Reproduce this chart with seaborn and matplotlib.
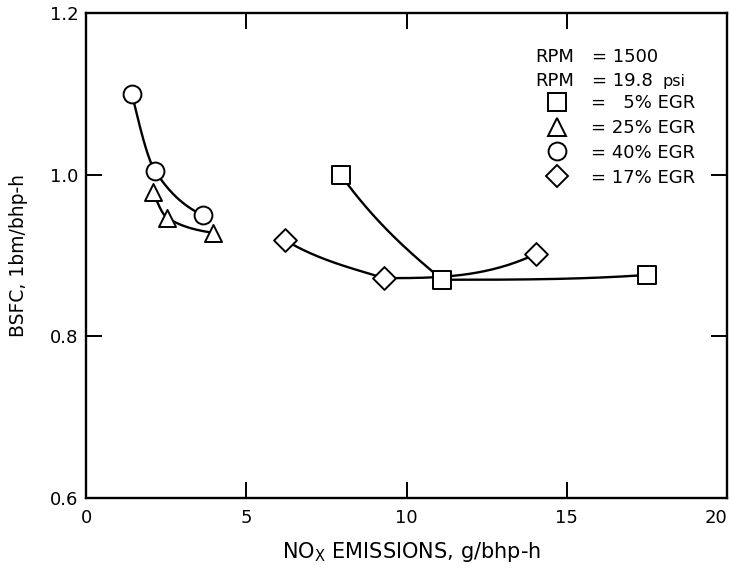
import numpy as np
import pandas as pd
import seaborn as sns
import matplotlib
matplotlib.use("Agg")
import matplotlib.pyplot as plt
from matplotlib.lines import Line2D

# ---------------- data ----------------
egr_labels = ["5% EGR", "25% EGR", "40% EGR", "17% EGR"]
sq_x = [7.96, 11.12, 17.51]
sq_y = [0.999, 0.870, 0.876]
tri_x = [2.09, 2.52, 3.96]
tri_y = [0.978, 0.947, 0.928]
cir_x = [1.43, 2.15, 3.64]
cir_y = [1.100, 1.005, 0.950]
dia_x = [6.21, 9.30, 14.04]
dia_y = [0.919, 0.872, 0.902]
x_ticks = [0, 5, 10, 15, 20]
y_ticks = [0.6, 0.8, 1.0, 1.2]
y_tick_labels = ["0.6", "0.8", "1.0", "1.2"]

# ---------------- style ----------------
sns.set_style("ticks")
plt.rcParams["font.family"] = ["DejaVu Sans"]
plt.rcParams["mathtext.fontset"] = "dejavusans"
plt.rcParams["text.color"] = "black"
plt.rcParams["axes.labelcolor"] = "black"
plt.rcParams["xtick.color"] = "black"
plt.rcParams["ytick.color"] = "black"


def smooth_curve(x, y, n=80):
    """Hand-drawn-like smooth curve through the points (cubic Hermite)."""
    x = np.asarray(x, float)
    y = np.asarray(y, float)
    h = np.diff(x)
    s = np.diff(y) / h
    m = len(x)
    left = np.zeros(m)
    right = np.zeros(m)
    for i in range(1, m - 1):
        if s[i - 1] * s[i] > 0:
            w1 = 2 * h[i] + h[i - 1]
            w2 = h[i] + 2 * h[i - 1]
            d = (w1 + w2) / (w1 / s[i - 1] + w2 / s[i])
            left[i] = right[i] = d
        else:
            if abs(s[i - 1]) >= abs(s[i]):
                left[i], right[i] = 0.8 * s[i - 1], 0.0
            else:
                left[i], right[i] = 0.0, 0.8 * s[i]

    def end_tan(h0, h1, s0, s1):
        d = ((2 * h0 + h1) * s0 - h0 * s1) / (h0 + h1)
        if np.sign(d) != np.sign(s0):
            d = 0.5 * s0
        elif abs(d) > 3 * abs(s0):
            d = 3 * s0
        return d

    right[0] = end_tan(h[0], h[1], s[0], s[1])
    left[-1] = end_tan(h[-1], h[-2], s[-1], s[-2])
    xs, ys = [], []
    for i in range(m - 1):
        t = np.linspace(0, 1, n)
        h00 = 2 * t**3 - 3 * t**2 + 1
        h10 = t**3 - 2 * t**2 + t
        h01 = -2 * t**3 + 3 * t**2
        h11 = t**3 - t**2
        xs.append(x[i] + t * h[i])
        ys.append(h00 * y[i] + h10 * h[i] * right[i] + h01 * y[i + 1] + h11 * h[i] * left[i + 1])
    return np.concatenate(xs), np.concatenate(ys)


W, H = 730, 569
fig = plt.figure(figsize=(W / 100, H / 100), dpi=100)
ax_l, ax_r, ax_t, ax_b = 86, 727, 13, 498
ax = fig.add_axes([ax_l / W, 1 - ax_b / H, (ax_r - ax_l) / W, (ax_b - ax_t) / H])

series = [
    (sq_x, sq_y, "s", 160),
    (tri_x, tri_y, "^", 150),
    (cir_x, cir_y, "o", 165),
    (dia_x, dia_y, "D", 135),
]

for xs_, ys_, mk, size in series:
    cx, cy = smooth_curve(xs_, ys_)
    sns.lineplot(x=cx, y=cy, sort=False, estimator=None, color="black",
                 linewidth=1.7, ax=ax, zorder=2)
for xs_, ys_, mk, size in series:
    sns.scatterplot(x=xs_, y=ys_, marker=mk, s=size, facecolor="white",
                    edgecolor="black", linewidth=1.4, ax=ax, zorder=3)

ax.set_xlim(0, 20)
ax.set_ylim(0.6, 1.2)
ax.set_xticks(x_ticks)
ax.set_xticklabels([str(v) for v in x_ticks])
ax.set_yticks(y_ticks)
ax.set_yticklabels(y_tick_labels)
ax.get_xticklabels()[-1].set_horizontalalignment("right")

for sp in ax.spines.values():
    sp.set_visible(True)
    sp.set_linewidth(1.7)
    sp.set_color("black")

ax.tick_params(direction="in", length=11.5, width=1.4, top=True, right=True,
               labelsize=13, colors="black")
ax.tick_params(axis="x", pad=8)
ax.tick_params(axis="y", pad=5.5)

ax.set_xlabel(r"NO$_{\mathregular{X}}$ EMISSIONS, g/bhp-h", fontsize=15)
ax.set_ylabel("BSFC, 1bm/bhp-h", fontsize=13.5)
ax.xaxis.set_label_coords((412 - ax_l) / (ax_r - ax_l), -(540 - ax_b) / (ax_b - ax_t))
ax.yaxis.set_label_coords((28 - ax_l) / (ax_r - ax_l), 0.5)


def fx(px):
    return (px - ax_l) / (ax_r - ax_l)


def fy(py):
    return 1 - (py - ax_t) / (ax_b - ax_t)


fs = 13
ax.text(fx(535), fy(62), "RPM", transform=ax.transAxes, fontsize=fs, va="baseline", ha="left")
ax.text(fx(592), fy(62), "= 1500", transform=ax.transAxes, fontsize=fs, va="baseline", ha="left")
ax.text(fx(535), fy(86), "RPM", transform=ax.transAxes, fontsize=fs, va="baseline", ha="left")
ax.text(fx(592), fy(86), "= 19.8", transform=ax.transAxes, fontsize=fs, va="baseline", ha="left")
ax.text(fx(663), fy(86), "psi", transform=ax.transAxes, fontsize=11.5, va="baseline", ha="left")

handles = [Line2D([], [], marker=mk, linestyle="none", markerfacecolor="white",
                  markeredgecolor="black", markeredgewidth=1.4,
                  markersize=np.sqrt(size)) for _, _, mk, size in series]
labels = ["=   " + egr_labels[0]] + ["= " + l for l in egr_labels[1:]]
ax.legend(handles, labels, loc="upper left", bbox_to_anchor=(fx(546), fy(94)),
          frameon=False, borderpad=0, borderaxespad=0, handlelength=1.2,
          handletextpad=1.3, labelspacing=0.38, fontsize=fs)

fig.savefig("out.png", dpi=100)
